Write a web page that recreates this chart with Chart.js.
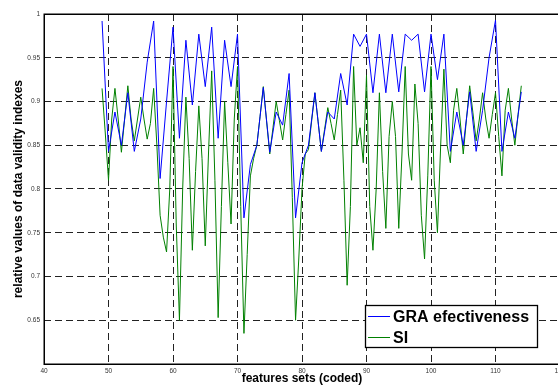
<!DOCTYPE html>
<html><head><meta charset="utf-8">
<script src="https://cdn.jsdelivr.net/npm/chart.js@4.4.0/dist/chart.umd.min.js"></script>
<style>
html,body{margin:0;padding:0;background:#fff;overflow:hidden;width:558px;height:387px}
#wrap{position:relative;width:558px;height:387px;overflow:hidden}
canvas{display:block}
</style></head>
<body><div id="wrap"><canvas id="c" width="562" height="387"></canvas></div>
<script>
const seriesNames = ['GRA efectiveness', 'SI'];
const xTitle = 'features sets (coded)';
const yTitle = 'relative values of data validity indexes';
const xTicks = [40, 50, 60, 70, 80, 90, 100, 110, 120];
const yTicks = [0.6, 0.65, 0.7, 0.75, 0.8, 0.85, 0.9, 0.95, 1];

const graX = [49,50,51,52,53,54,55,56,57,58,
  59,60,61,62,63,64,65,66,67,68,
  69,70,71,72,73,74,75,76,77,78,
  79,80,81,82,83,84,85,86,87,88,
  89,90,91,92,93,94,95,96,97,98,
  99,100,101,102,103,104,105,106,107,108,
  109,110,111,112,113,114];
const graY = [0.992,0.843,0.888,0.850,0.910,0.843,0.880,0.945,0.992,0.812,
  0.900,0.985,0.858,0.970,0.896,0.977,0.917,0.985,0.858,0.970,
  0.917,0.977,0.767,0.828,0.850,0.916,0.842,0.888,0.873,0.932,
  0.767,0.830,0.850,0.910,0.843,0.888,0.880,0.932,0.896,0.977,
  0.963,0.977,0.910,0.977,0.910,0.977,0.911,0.977,0.970,0.977,
  0.911,0.977,0.925,0.977,0.843,0.888,0.850,0.911,0.843,0.890,
  0.950,0.993,0.843,0.888,0.858,0.911];

const siX = [49,49.5,50,50.5,51,51.5,52,52.5,53,53.5,
  54,54.5,55,55.5,56,56.5,57,57.5,58,58.5,
  59,59.5,60,60.5,61,61.5,62,62.5,63,63.5,
  64,64.5,65,65.5,66,66.5,67,67.5,68,68.5,
  69,69.5,70,70.5,71,71.5,72,72.5,73,73.5,
  74,74.5,75,75.5,76,76.5,77,77.5,78,78.5,
  79,79.5,80,80.5,81,81.5,82,82.5,83,83.5,
  84,84.5,85,85.5,86,86.5,87,87.5,88,88.5,
  89,89.5,90,90.5,91,91.5,92,92.5,93,93.5,
  94,94.5,95,95.5,96,96.5,97,97.5,98,98.5,
  99,99.5,100,100.5,101,101.5,102,102.5,103,103.5,
  104,104.5,105,105.5,106,106.5,107,107.5,108,108.5,
  109,109.5,110,110.5,111,111.5,112,112.5,113,113.5,
  114];
const siY = [0.915,0.864,0.81,0.88,0.915,0.88,0.842,0.88,0.918,0.88,
  0.855,0.88,0.905,0.88,0.857,0.875,0.915,0.85,0.77,0.745,
  0.728,0.80,0.94,0.76,0.65,0.80,0.905,0.835,0.73,0.82,
  0.895,0.835,0.735,0.84,0.935,0.81,0.653,0.78,0.90,0.83,
  0.76,0.88,0.94,0.78,0.635,0.725,0.815,0.835,0.85,0.883,
  0.917,0.878,0.84,0.87,0.90,0.878,0.856,0.885,0.913,0.79,
  0.65,0.72,0.80,0.84,0.845,0.878,0.91,0.877,0.843,0.868,
  0.893,0.875,0.856,0.885,0.913,0.81,0.69,0.78,0.94,0.85,
  0.87,0.83,0.93,0.78,0.73,0.80,0.91,0.82,0.755,0.86,
  0.90,0.86,0.755,0.84,0.94,0.84,0.81,0.92,0.875,0.77,
  0.72,0.815,0.94,0.81,0.75,0.85,0.937,0.85,0.83,0.89,
  0.915,0.88,0.84,0.88,0.918,0.887,0.855,0.88,0.91,0.88,
  0.858,0.885,0.91,0.86,0.815,0.89,0.915,0.88,0.85,0.885,
  0.918];

const colors = ['#0000ff', '#008000'];
const FONT = "'Liberation Sans', Arial, sans-serif";

const boxPlugin = {
  id: 'boxPlugin',
  afterDraw(chart) {
    const {ctx, chartArea: a} = chart;
    ctx.save();
    ctx.strokeStyle = '#000';
    ctx.lineWidth = 1.5;
    ctx.strokeRect(a.left + 0.25, a.top + 0.25, a.right - a.left, a.bottom - a.top);
    // legend
    const lx = a.right - 195, ly = a.bottom - 59, lw = 172, lh = 42;
    ctx.fillStyle = '#fff';
    ctx.fillRect(lx, ly, lw, lh);
    ctx.lineWidth = 1.3;
    ctx.strokeStyle = '#000';
    ctx.strokeRect(lx + 0.5, ly + 0.5, lw, lh);
    ctx.font = "bold 16px " + FONT;
    ctx.textBaseline = 'middle';
    chart.data.datasets.forEach((ds, i) => {
      const yy = ly + 11.5 + i * 21;
      ctx.strokeStyle = ds.borderColor;
      ctx.lineWidth = 1;
      ctx.beginPath();
      ctx.moveTo(lx + 3, yy);
      ctx.lineTo(lx + 25, yy);
      ctx.stroke();
      ctx.fillStyle = '#000';
      ctx.fillText(ds.label, lx + 28, yy + 1);
    });
    ctx.restore();
  }
};

new Chart(document.getElementById('c'), {
  type: 'line',
  data: {
    datasets: [
      { label: seriesNames[0], data: graX.map((x, i) => ({x, y: graY[i]})),
        borderColor: colors[0], borderWidth: 1, pointRadius: 0, tension: 0, fill: false, order: 0 },
      { label: seriesNames[1], data: siX.map((x, i) => ({x, y: siY[i]})),
        borderColor: colors[1], borderWidth: 1, pointRadius: 0, tension: 0, fill: false, order: 1 }
    ]
  },
  options: {
    responsive: false,
    animation: false,
    devicePixelRatio: 1,
    layout: { padding: { top: 14, right: 2, left: 0, bottom: 0 } },
    plugins: { legend: { display: false }, tooltip: { enabled: false } },
    scales: {
      x: {
        type: 'linear', min: 40, max: 120,
        afterBuildTicks: s => { s.ticks = xTicks.map(v => ({value: v})); },
        afterFit: s => { s.height = 23; s.paddingLeft = 0; s.paddingRight = 0; },
        ticks: { autoSkip: false, maxRotation: 0, padding: 3, color: '#333',
          font: { family: FONT, size: 6.5 }, callback: v => String(v) },
        grid: { color: '#222', lineWidth: 1, drawTicks: false },
        border: { display: false, dash: [7, 4] },
        title: { display: true, text: xTitle, color: '#000',
          font: { family: FONT, size: 12, weight: 'bold' }, padding: { top: 0, bottom: 1.5 } }
      },
      y: {
        type: 'linear', min: 0.6, max: 1,
        afterBuildTicks: s => { s.ticks = yTicks.map(v => ({value: v})); },
        afterFit: s => { s.width = 44; s.paddingTop = 0; s.paddingBottom = 0; },
        ticks: { autoSkip: false, padding: 4, color: '#333',
          font: { family: FONT, size: 6.5 },
          callback: v => (Math.abs(v - 0.6) < 1e-9 ? '' : String(+v.toFixed(2))) },
        grid: { color: '#222', lineWidth: 1, drawTicks: false },
        border: { display: false, dash: [7, 4] },
        title: { display: true, text: yTitle, color: '#000',
          font: { family: FONT, size: 12, weight: 'bold' }, padding: { top: 11.5, bottom: 0 } }
      }
    }
  },
  plugins: [boxPlugin]
});
</script>
</body></html>
